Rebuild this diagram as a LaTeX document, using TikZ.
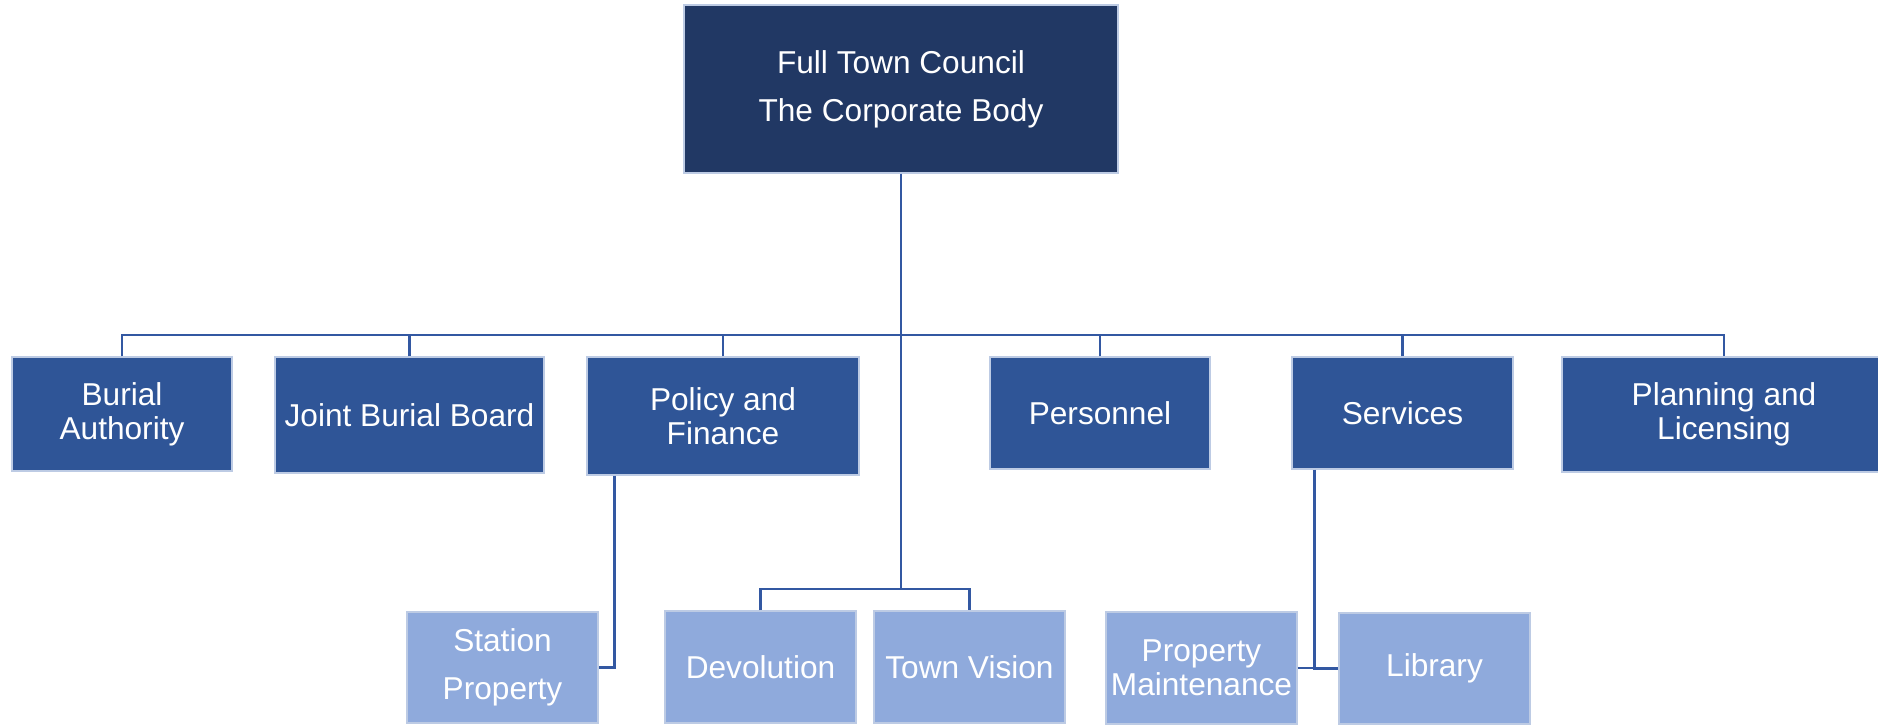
\documentclass[tikz,border=0pt]{standalone}
\usepackage{fontspec}
\setmainfont{Liberation Sans}
\usepackage{tikz}
\definecolor{CouncilNavy}{rgb}{0.129,0.220,0.392}
\definecolor{CommitteeBlue}{rgb}{0.184,0.333,0.592}
\definecolor{GroupBlue}{rgb}{0.561,0.667,0.863}
\definecolor{LinkBlue}{rgb}{0.200,0.345,0.635}
\definecolor{BoxEdge}{rgb}{0.741,0.796,0.894}

\tikzset{
  box/.style={draw=BoxEdge, line width=0.3pt, text=white, align=center,
    inner sep=0pt, font=\fontsize{9}{9.6}\selectfont},
  council/.style={box, fill=CouncilNavy, font=\fontsize{9}{13.6}\selectfont},
  committee/.style={box, fill=CommitteeBlue},
  subgroup/.style={box, fill=GroupBlue},
  link/.style={LinkBlue, line width=0.8pt}
}

\begin{document}
\begin{tikzpicture}

\useasboundingbox (0,0) rectangle (18.78,-7.24);
\fill[white] (0,0) rectangle (18.78,-7.24);

% ============================================================
% TOP: the corporate body
% ============================================================

\node[council, minimum width=4.34cm, minimum height=1.68cm] (council) at (9.01,-0.89)
  {Full Town Council\\The Corporate Body};

% ============================================================
% COMMITTEES: row at y=-4.14
% ============================================================

\node[committee, minimum width=2.20cm, minimum height=1.14cm] (burial)     at (1.22,-4.14)   {Burial\\Authority};
\node[committee, minimum width=2.69cm, minimum height=1.16cm] (jointboard) at (4.095,-4.15)  {Joint Burial Board};
\node[committee, minimum width=2.72cm, minimum height=1.18cm] (policy)     at (7.23,-4.16)   {Policy and\\Finance};
\node[committee, minimum width=2.20cm, minimum height=1.12cm] (personnel)  at (11.00,-4.13)  {Personnel};
\node[committee, minimum width=2.21cm, minimum height=1.12cm] (services)   at (14.025,-4.13) {Services};
\node[committee, minimum width=3.24cm, minimum height=1.15cm] (planning)   at (17.24,-4.145) {Planning and\\Licensing};

% ============================================================
% WORKING GROUPS: bottom row, cut by the page edge
% ============================================================

\node[subgroup, minimum width=1.91cm, minimum height=1.11cm, font=\fontsize{9}{13.6}\selectfont]
  (station) at (5.025,-6.675) {Station\\Property};
\node[subgroup, minimum width=1.91cm, minimum height=1.12cm] (devolution)  at (7.605,-6.67)  {Devolution};
\node[subgroup, minimum width=1.91cm, minimum height=1.12cm] (townvision)  at (9.695,-6.67)  {Town Vision};
\node[subgroup, minimum width=1.91cm, minimum height=1.12cm] (maintenance) at (12.015,-6.68) {Property\\Maintenance};
\node[subgroup, minimum width=1.91cm, minimum height=1.11cm] (library)     at (14.345,-6.685) {Library};

% Bus lines
\coordinate (bus) at (9.01,-3.35);
\coordinate (lowbus) at (9.01,-5.89);

% Council down to both buses
\draw[link] (council.south) -- (lowbus);

% Committee bus
\draw[link] (burial.north) |- (bus) -| (planning.north);
\foreach \n in {jointboard,policy,personnel,services}{%
  \draw[link] (\n.north) -- (\n.north |- bus);
}

% Devolution / Town Vision
\draw[link] (devolution.north) |- (lowbus) -| (townvision.north);

% Policy and Finance -> Station Property
\draw[link] ([xshift=2.8mm]policy.south west) |- (station.east);

% Services -> Property Maintenance and Library
\draw[link] ([xshift=2.3mm]services.south west) |- (library.west);
\draw[link] (maintenance.east) -- (maintenance.east -| library.west);

\end{tikzpicture}
\end{document}
